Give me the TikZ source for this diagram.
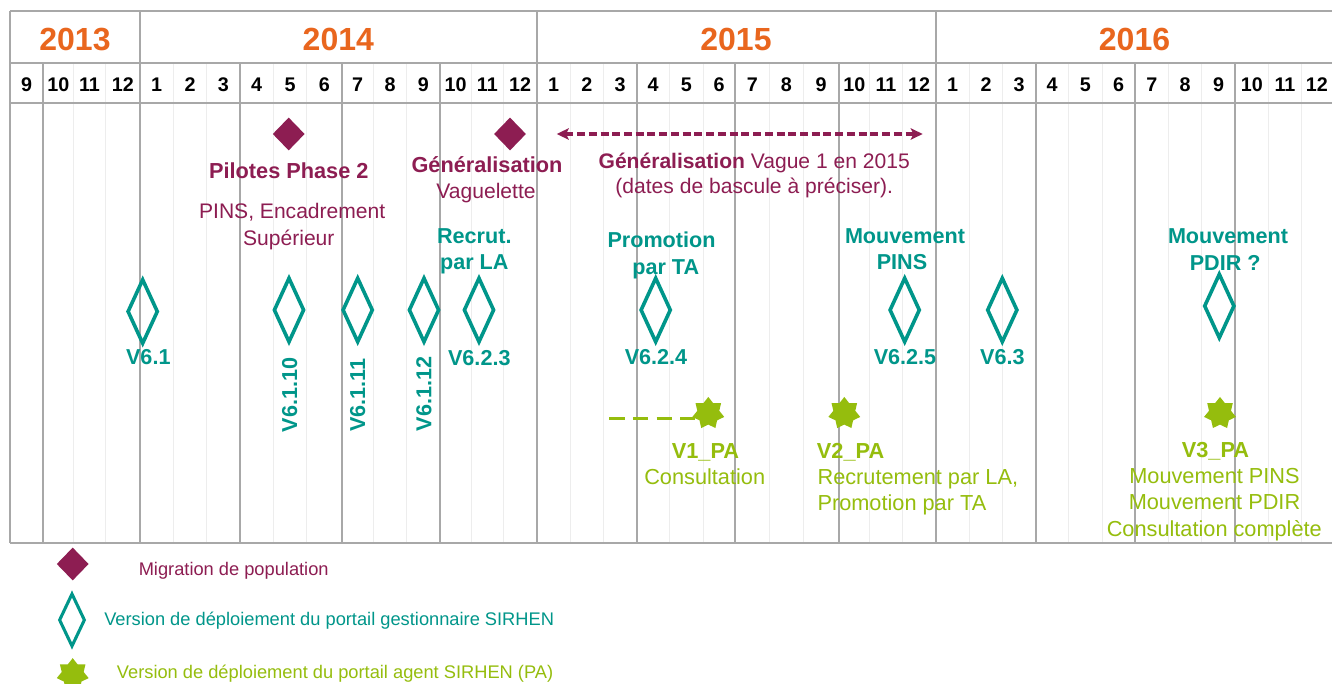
\documentclass[tikz,border=0pt]{standalone}
\usepackage{fontspec}
\setmainfont{Liberation Sans}
\usetikzlibrary{shapes.geometric, arrows.meta}

\definecolor{yearorange}{HTML}{E9661E}
\definecolor{migpurple}{HTML}{8D1D52}
\definecolor{gesteal}{HTML}{00968A}
\definecolor{agentgreen}{HTML}{95BD0D}
\definecolor{griddark}{HTML}{A8A8A8}
\definecolor{gridlight}{HTML}{EDEDED}

\begin{document}
\begin{tikzpicture}[x=0.75pt, y=-0.75pt,
  lbl/.style={inner sep=0pt, anchor=base},
  yearlab/.style={lbl, text=yearorange, font=\fontsize{24}{28}\selectfont\bfseries},
  monthlab/.style={lbl, text=black, font=\fontsize{14.8}{18}\selectfont\bfseries},
  tealb/.style={lbl, text=gesteal, font=\fontsize{16.2}{20}\selectfont\bfseries},
  purb/.style={lbl, text=migpurple, font=\fontsize{16.3}{20}\selectfont\bfseries},
  purr/.style={lbl, text=migpurple, font=\fontsize{15.8}{20}\selectfont},
  grnb/.style={lbl, text=agentgreen, font=\fontsize{16.3}{20}\selectfont\bfseries},
  grnr/.style={lbl, text=agentgreen, font=\fontsize{16.3}{20}\selectfont},
  legtxt/.style={inner sep=0pt, anchor=base west, font=\fontsize{13.7}{16}\selectfont},
  migdia/.style={diamond, fill=migpurple, inner sep=0pt, minimum width=24pt, minimum height=24.75pt},
  gestdia/.style={diamond, draw=gesteal, line width=2.7pt, inner sep=0pt, minimum width=23pt, minimum height=48.75pt},
  pastar/.style={star, star points=7, star point ratio=1.45, fill=agentgreen, inner sep=0pt, minimum size=24.5pt},
  darkline/.style={griddark, line width=1.5pt},
  lightline/.style={gridlight, line width=0.75pt}
]
\useasboundingbox (0,0) rectangle (1332,684);
\fill[white] (0,0) rectangle (1332,684);

% ---- grid: month lines, quarter lines, borders ----
\foreach \xx in {73.3,105.7,173.3,206.7,273.3,306.7,373.3,406.7,471,503.7,570.3,603.3,669.7,703,769.7,803,869.7,902.3,969.7,1002.7,1068.7,1102,1168.3,1201.7,1268.3,1301.7}
  \draw[lightline] (\xx,63.5) -- (\xx,543);
\foreach \xx in {43.3,240,342,440,636.7,735,839,1035.7,1135.3,1235.3}
  \draw[darkline] (\xx,63.5) -- (\xx,543);
\foreach \xx in {10,140,536.7,935.7}
  \draw[darkline] (\xx,11) -- (\xx,543);
\foreach \yy in {11,63.5,103,543}
  \draw[darkline] (10,\yy) -- (1332,\yy);

% ---- years ----
\node[yearlab] (y2013) at (75,50.7) {2013};
\node[yearlab] (y2014) at (338.3,50.7) {2014};
\node[yearlab] (y2015) at (736,50.7) {2015};
\node[yearlab] (y2016) at (1134.5,50.7) {2016};

% ---- months ----
\foreach \a/\b/\m [count=\i] in {10/43.3/9, 43.3/73.3/10, 73.3/105.7/11, 105.7/140/12,
  140/173.3/1, 173.3/206.7/2, 206.7/240/3, 240/273.3/4, 273.3/306.7/5, 306.7/342/6,
  342/373.3/7, 373.3/406.7/8, 406.7/440/9, 440/471/10, 471/503.7/11, 503.7/536.7/12,
  536.7/570.3/1, 570.3/603.3/2, 603.3/636.7/3, 636.7/669.7/4, 669.7/703/5, 703/735/6,
  735/769.7/7, 769.7/803/8, 803/839/9, 839/869.7/10, 869.7/902.3/11, 902.3/935.7/12,
  935.7/969.7/1, 969.7/1002.7/2, 1002.7/1035.7/3, 1035.7/1068.7/4, 1068.7/1102/5, 1102/1135.3/6,
  1135.3/1168.3/7, 1168.3/1201.7/8, 1201.7/1235.3/9, 1235.3/1268.3/10, 1268.3/1301.7/11, 1301.7/1332/12}
  \node[monthlab] (m\i) at ({(\a+\b)/2},92) {\m};

% ---- population migrations ----
\node[migdia] (mig1) at (288.7,134) {};
\node[migdia] (mig2) at (510,134) {};
\node[purb] (pil) at (288.8,179) {Pilotes Phase 2};
\node[purr] (pil2) at (292.2,219) {PINS, Encadrement};
\node[purr] (pil3) at (288.8,245.7) {Supérieur};
\node[purb] (gen) at (487,172.3) {Généralisation};
\node[purr] (gen2) at (486,199) {Vaguelette};

\coordinate (gva) at (556.7,134);
\coordinate (gvb) at (922.7,134);
\draw[migpurple, line width=2.6pt, dash pattern=on 6pt off 2.8pt,
  {Stealth[length=9pt,width=8.5pt,inset=2pt]}-{Stealth[length=9pt,width=8.5pt,inset=2pt]}] (gva) -- (gvb);
\node[purr] (vg1) at (754.2,169) {\textbf{Généralisation} Vague 1 en 2015};
\node[purr] (vg2) at (754.2,194) {(dates de bascule à préciser).};

% ---- manager portal releases ----
\node[gestdia] (v61)   at (142.7,311.5) {};
\node[gestdia] (v6110) at (289,310) {};
\node[gestdia] (v6111) at (357.7,310) {};
\node[gestdia] (v6112) at (424,310) {};
\node[gestdia] (v623)  at (479,310) {};
\node[gestdia] (v624)  at (655.7,310) {};
\node[gestdia] (v625)  at (904.7,310) {};
\node[gestdia] (v63)   at (1002.3,310) {};
\node[gestdia] (vpdir) at (1219.3,306) {};

\node[tealb] (l61) at (148.3,364) {V6.1};
\node[tealb, anchor=center, rotate=90] (l6110) at (289.7,395) {V6.1.10};
\node[tealb, anchor=center, rotate=90] (l6111) at (357.7,395) {V6.1.11};
\node[tealb, anchor=center, rotate=90] (l6112) at (424,394) {V6.1.12};
\node[tealb] (l623) at (479.3,366) {V6.2.3};
\node[tealb] (l624) at (656,364) {V6.2.4};
\node[tealb] (l625) at (905,364) {V6.2.5};
\node[tealb] (l63) at (1002.3,364) {V6.3};

\node[tealb] (rc1) at (474.3,244) {Recrut.};
\node[tealb] (rc2) at (474.3,270) {par LA};
\node[tealb] (pr1) at (661.5,247.7) {Promotion};
\node[tealb] (pr2) at (665.7,275) {par TA};
\node[tealb] (mp1) at (905,244) {Mouvement};
\node[tealb] (mp2) at (902,270) {PINS};
\node[tealb] (md1) at (1228,244) {Mouvement};
\node[tealb] (md2) at (1225.2,270.7) {PDIR ?};

% ---- agent portal releases ----
\node[pastar] (s1) at (708.3,413.3) {};
\node[pastar] (s2) at (844.3,413.3) {};
\node[pastar] (s3) at (1220,413.3) {};
\coordinate (pa0) at (609.3,418.3);
\draw[agentgreen, line width=2.3pt, dash pattern=on 11.5pt off 6.2pt] (pa0) -- (pa0 -| s1.west);

\node[grnb] (p1a) at (705.5,458.3) {V1\_PA};
\node[grnr] (p1b) at (704.7,484) {Consultation};
\node[grnb, anchor=base west] (p2a) at (816.7,458.3) {V2\_PA};
\node[grnr, anchor=base west] (p2b) at (817.3,484) {Recrutement par LA,};
\node[grnr, anchor=base west] (p2c) at (817.3,510) {Promotion par TA};
\node[grnb] (p3a) at (1215.5,457.3) {V3\_PA};
\node[grnr] (p3b) at (1214.5,483.3) {Mouvement PINS};
\node[grnr] (p3c) at (1214.5,509.3) {Mouvement PDIR};
\node[grnr] (p3d) at (1214.3,536) {Consultation complète};

% ---- legend ----
\node[migdia] (kmig) at (72.7,564) {};
\node[legtxt, text=migpurple] (kmigt) at (138.5,575) {Migration de population};
\node[diamond, draw=gesteal, line width=2.3pt, inner sep=0pt, minimum width=19.5pt, minimum height=40pt] (kges) at (72,620) {};
\node[legtxt, text=gesteal] (kgest) at (104,625) {Version de déploiement du portail gestionnaire SIRHEN};
\node[pastar] (kpa) at (72.7,674.5) {};
\node[legtxt, text=agentgreen] (kpat) at (116.7,678.5) {Version de déploiement du portail agent SIRHEN (PA)};
\end{tikzpicture}
\end{document}
